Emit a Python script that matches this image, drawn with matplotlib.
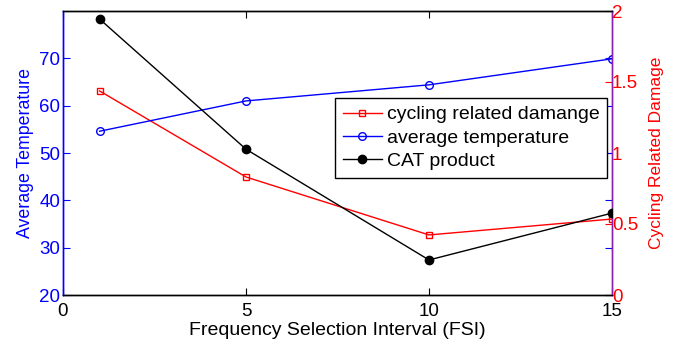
import matplotlib
matplotlib.use("Agg")
import matplotlib.pyplot as plt

plt.rcParams['font.family'] = ['Liberation Sans', 'DejaVu Sans']

fsi = [1, 5, 10, 15]
avg_temperature = [54.6, 61.0, 64.4, 69.9]
cycling_damage = [1.437, 0.831, 0.423, 0.535]
cat_product = [78.3, 50.8, 27.4, 37.3]

x_ticks = [0, 5, 10, 15]
left_ticks = [20, 30, 40, 50, 60, 70]
right_ticks = [0, 0.5, 1, 1.5, 2]
right_tick_labels = ['0', '0.5', '1', '1.5', '2']

fig = plt.figure(figsize=(6.77, 3.45), dpi=100)
ax = fig.add_axes([63/677, 50/345, (612-63)/677, (295-11)/345])
ax2 = ax.twinx()

blue = '#0000ff'
red = '#ff0000'

l_temp, = ax.plot(fsi, avg_temperature, '-o', color=blue, lw=1.0,
                  markersize=5.5, markerfacecolor='none', markeredgewidth=1.0,
                  label='average temperature')
l_cat, = ax.plot(fsi, cat_product, '-o', color='black', lw=1.0,
                 markersize=6, markerfacecolor='black',
                 label='CAT product', zorder=5)
l_dmg, = ax2.plot(fsi, cycling_damage, '-s', color=red, lw=1.0,
                  markersize=5, markerfacecolor='none', markeredgewidth=1.0,
                  label='cycling related damange')

ax.set_xlim(0, 15)
ax.set_ylim(20, 80)
ax2.set_ylim(0, 2)
ax.set_xticks(x_ticks)
ax.set_yticks(left_ticks)
ax2.set_yticks(right_ticks)
ax2.set_yticklabels(right_tick_labels)

ax.tick_params(axis='x', direction='in', top=True, length=5, labelsize=13.5,
               colors='black', pad=6)
ax.tick_params(axis='y', direction='in', right=True, length=5, labelsize=13.5,
               colors=blue, pad=2)
ax2.tick_params(axis='y', direction='in', length=5, labelsize=13.5, colors=red, pad=0)

ax.set_xlabel('Frequency Selection Interval (FSI)', fontsize=14, labelpad=1.5)
ax.set_ylabel('Average Temperature', fontsize=12.8, color=blue, labelpad=4)
ax2.set_ylabel('Cycling Related Damage', fontsize=12.5, color=red, labelpad=8)

for a in (ax, ax2):
    a.spines['left'].set_color(blue)
    a.spines['right'].set_color('#8a1fb0')
    a.spines['top'].set_color('black')
    a.spines['bottom'].set_color('black')
    for s in a.spines.values():
        s.set_linewidth(1.0)

ax.set_zorder(ax2.get_zorder() + 1)
ax.patch.set_visible(False)

leg = ax.legend([l_dmg, l_temp, l_cat],
                ['cycling related damange', 'average temperature', 'CAT product'],
                loc='upper left', bbox_to_anchor=(272/549, 1 - 87/284),
                fontsize=14, frameon=True, fancybox=False, edgecolor='black',
                framealpha=1, borderpad=0.4, labelspacing=0.3,
                handlelength=2.0, handletextpad=0.25, borderaxespad=0)
leg.get_frame().set_linewidth(1.0)

fig.savefig('out.png', dpi=100)
